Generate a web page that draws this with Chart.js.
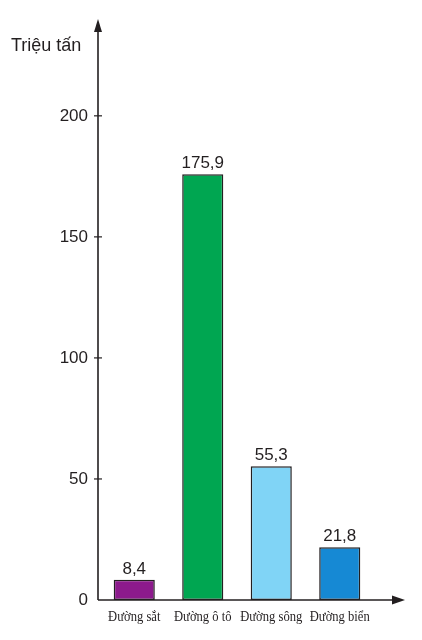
<!DOCTYPE html>
<html>
<head>
<meta charset="utf-8">
<script src="https://cdn.jsdelivr.net/npm/chart.js@4/dist/chart.umd.min.js"></script>
<style>
html,body{margin:0;padding:0;background:#fff;}
canvas{display:block;}
</style>
</head>
<body>
<canvas id="c" width="422" height="640"></canvas>
<script>
const categories = ['Đường sắt', 'Đường ô tô', 'Đường sông', 'Đường biển'];
const values = [8.4, 175.9, 55.3, 21.8];
const valueLabels = ['8,4', '175,9', '55,3', '21,8'];
const yTicks = [0, 50, 100, 150, 200];
const barColors = ['#8c1a8c', '#00a651', '#80d4f6', '#1689d4'];
const unitLabel = 'Triệu tấn';

const INK = '#231f20';

const decor = {
  id: 'decor',
  afterDatasetsDraw(chart) {
    const ctx = chart.ctx;
    const ca = chart.chartArea;
    const ys = chart.scales.y;
    const xs = chart.scales.x;
    const x0 = ca.left - 2, y0 = ys.getPixelForValue(0);
    ctx.save();
    ctx.strokeStyle = INK;
    ctx.fillStyle = INK;
    ctx.lineWidth = 1.6;
    // y axis
    ctx.beginPath();
    ctx.moveTo(x0, y0);
    ctx.lineTo(x0, ca.top + 8);
    ctx.stroke();
    ctx.beginPath();
    ctx.moveTo(x0, ca.top);
    ctx.lineTo(x0 - 4, ca.top + 13);
    ctx.lineTo(x0 + 4, ca.top + 13);
    ctx.closePath();
    ctx.fill();
    // x axis
    const xEnd = 405;
    ctx.beginPath();
    ctx.moveTo(x0, y0);
    ctx.lineTo(xEnd - 8, y0);
    ctx.stroke();
    ctx.beginPath();
    ctx.moveTo(xEnd, y0);
    ctx.lineTo(xEnd - 13, y0 - 4.5);
    ctx.lineTo(xEnd - 13, y0 + 4.5);
    ctx.closePath();
    ctx.fill();
    // y tick marks
    ctx.lineWidth = 1.2;
    yTicks.forEach(v => {
      if (v === 0) return;
      const y = ys.getPixelForValue(v);
      ctx.beginPath();
      ctx.moveTo(x0 - 4, y);
      ctx.lineTo(x0 + 4, y);
      ctx.stroke();
    });
    // value labels
    ctx.font = '17px "Liberation Sans", Arial, sans-serif';
    ctx.textAlign = 'center';
    ctx.textBaseline = 'alphabetic';
    const meta = chart.getDatasetMeta(0);
    meta.data.forEach((bar, i) => {
      ctx.fillText(valueLabels[i], bar.x, bar.y - 6);
    });
    // category labels (condensed serif)
    ctx.font = '15px "Liberation Serif", "Times New Roman", serif';
    categories.forEach((c, i) => {
      const cx = xs.getPixelForValue(i);
      ctx.save();
      ctx.translate(cx, y0 + 21);
      ctx.scale(0.84, 1);
      ctx.fillText(c, 0, 0);
      ctx.restore();
    });
    // unit label
    ctx.font = '18px "Liberation Sans", Arial, sans-serif';
    ctx.textAlign = 'left';
    ctx.fillText(unitLabel, 11, 51);
    ctx.restore();
  }
};

new Chart(document.getElementById('c'), {
  type: 'bar',
  data: {
    labels: categories,
    datasets: [{
      data: values,
      backgroundColor: barColors,
      borderColor: INK,
      borderWidth: 1.5,
      borderSkipped: false,
      barPercentage: 0.6,
      categoryPercentage: 1.0
    }]
  },
  options: {
    responsive: false,
    devicePixelRatio: 1,
    animation: false,
    layout: { padding: { top: 19, right: 48, bottom: 0, left: 0 } },
    plugins: { legend: { display: false }, tooltip: { enabled: false } },
    scales: {
      x: {
        grid: { display: false },
        border: { display: false },
        ticks: { display: false },
        afterFit(s) { s.height = 40; }
      },
      y: {
        min: 0,
        max: 240,
        grid: { display: false },
        border: { display: false },
        afterBuildTicks(s) { s.ticks = yTicks.map(v => ({ value: v })); },
        ticks: {
          color: INK,
          padding: 4,
          font: { family: '"Liberation Sans", Arial, sans-serif', size: 17 }
        },
        afterFit(s) { s.width = 100; }
      }
    }
  },
  plugins: [decor]
});
</script>
</body>
</html>
